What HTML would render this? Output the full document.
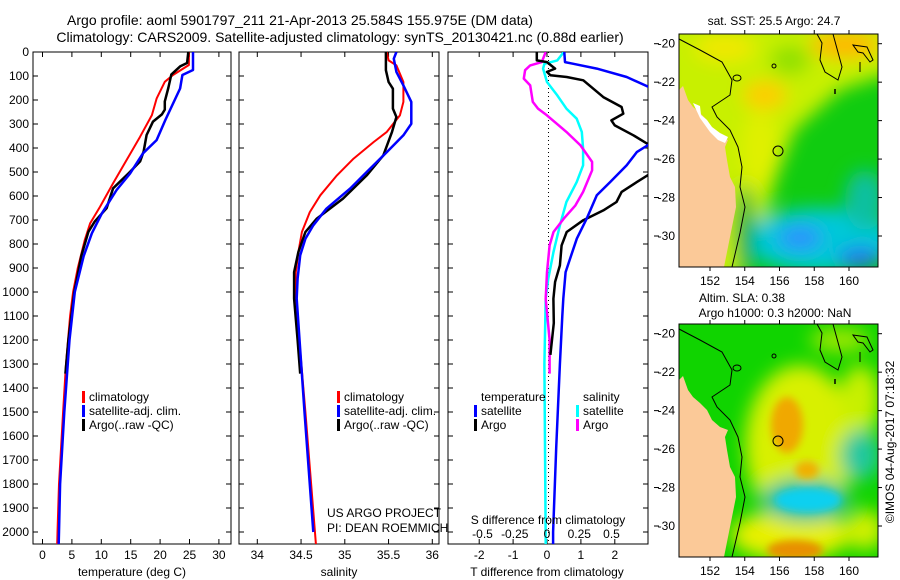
<!DOCTYPE html>
<html><head><meta charset="utf-8">
<style>
body{margin:0;background:#fff;}
svg{display:block;font-family:"Liberation Sans",sans-serif;}
text{fill:#000;}
</style></head>
<body>
<svg id="fig" width="900" height="580" viewBox="0 0 900 580" xmlns="http://www.w3.org/2000/svg">
<defs>
<clipPath id="cp1"><rect x="33" y="52" width="198" height="492"/></clipPath>
<clipPath id="cp2"><rect x="239" y="52" width="200" height="492"/></clipPath>
<clipPath id="cp3"><rect x="448" y="52" width="200" height="492"/></clipPath>
<clipPath id="cm1"><rect x="679" y="34" width="199" height="233"/></clipPath>
<clipPath id="cm2"><rect x="679" y="324" width="199" height="233"/></clipPath>
<filter id="bl" x="-50%" y="-50%" width="200%" height="200%"><feGaussianBlur stdDeviation="9"/></filter>
<filter id="bs" x="-50%" y="-50%" width="200%" height="200%"><feGaussianBlur stdDeviation="4"/></filter>
</defs>
<text x="300" y="25" font-size="14" text-anchor="middle">Argo profile: aoml 5901797_211 21-Apr-2013 25.584S 155.975E (DM data)</text>
<text x="340" y="42" font-size="14" text-anchor="middle">Climatology: CARS2009. Satellite-adjusted climatology: synTS_20130421.nc (0.88d earlier)</text>

<!-- map 1 -->
<g clip-path="url(#cm1)">
<rect x="679" y="34" width="199" height="233" fill="#10cc10"/>
<g filter="url(#bl)">
<polygon points="660,20 900,20 900,70 840,90 795,130 775,180 760,240 740,280 660,280" fill="#c8f000"/>
<ellipse cx="845" cy="45" rx="35" ry="14" fill="#ffb800"/>
<ellipse cx="725" cy="48" rx="30" ry="14" fill="#f0e800"/>
<ellipse cx="765" cy="95" rx="22" ry="14" fill="#ffcc00"/>
<ellipse cx="760" cy="150" rx="18" ry="40" fill="#e0f000"/>
<ellipse cx="790" cy="60" rx="20" ry="15" fill="#90e000"/>
<ellipse cx="820" cy="240" rx="75" ry="32" fill="#00c8d8"/>
<ellipse cx="865" cy="200" rx="20" ry="30" fill="#10c0a0"/>
<ellipse cx="800" cy="238" rx="22" ry="12" fill="#2c90ff"/>
<ellipse cx="860" cy="258" rx="22" ry="10" fill="#2070f0"/>
<ellipse cx="745" cy="230" rx="10" ry="45" fill="#00b040"/>
</g>
<polygon points="679,90 683,86 688,100 693,107 700,113 707,120 712,130 720,137 728,140 725,147 727,160 730,177 735,187 736,207 732,227 728,247 724,267 679,267" fill="#fbc998"/>
<polygon points="693,103 700,106 701,115 707,120 712,127 720,133 728,137 725,143 718,140 710,132 700,118" fill="#fff"/>
<path d="M679,39 L700,50 L722,62 L732,80 L730,95 L712,107 L717,117 L730,130 L738,147 L742,167 L740,187 L745,207 L740,233 L732,267" fill="none" stroke="#000" stroke-width="1"/>
<path d="M817,34 L822,43 L820,60 L825,72 L838,80 L842,67 L833,34" fill="none" stroke="#000" stroke-width="1"/>
<path d="M853,45 L867,47 L873,60 L870,62 L863,53 L858,52 Z" fill="none" stroke="#000" stroke-width="1"/>
<line x1="860" y1="62" x2="860" y2="72" stroke="#000"/>
<ellipse cx="737" cy="78" rx="4" ry="3" fill="none" stroke="#000"/>
<circle cx="774" cy="66" r="2" fill="none" stroke="#000"/>
<line x1="835" y1="89" x2="835" y2="94" stroke="#000" stroke-width="1.5"/>
<circle cx="778" cy="151" r="5" fill="none" stroke="#000" stroke-width="1"/>
</g>
<rect x="679" y="34" width="199" height="233" fill="none" stroke="#000" stroke-width="1"/>
<text x="774" y="25" font-size="12" text-anchor="middle">sat. SST: 25.5 Argo: 24.7</text>

<!-- map 2 -->
<g clip-path="url(#cm2)">
<rect x="679" y="324" width="199" height="233" fill="#10d400"/>
<g filter="url(#bl)">
<ellipse cx="800" cy="445" rx="55" ry="80" fill="#d8f000"/>
<ellipse cx="860" cy="400" rx="20" ry="35" fill="#c8f000"/>
<ellipse cx="790" cy="535" rx="60" ry="25" fill="#e8f000"/>
<ellipse cx="865" cy="530" rx="20" ry="20" fill="#d0f000"/>
<ellipse cx="840" cy="340" rx="30" ry="12" fill="#a0e800"/>
<ellipse cx="805" cy="500" rx="45" ry="22" fill="#20c0a0"/>
<ellipse cx="860" cy="455" rx="20" ry="25" fill="#20c8a0"/>
</g>
<g filter="url(#bs)">
<ellipse cx="787" cy="425" rx="16" ry="28" fill="#f0a800"/>
<ellipse cx="807" cy="470" rx="12" ry="9" fill="#f0b000"/>
<ellipse cx="808" cy="500" rx="33" ry="12" fill="#10d0f0"/>
<ellipse cx="795" cy="550" rx="28" ry="10" fill="#e89000"/>
</g>
<polygon points="679,380 683,376 688,390 693,397 700,403 707,410 712,420 720,427 728,430 725,437 727,450 730,467 735,477 736,497 732,517 728,537 724,557 679,557" fill="#fbc998"/>
<path d="M679,329 L700,340 L722,352 L732,370 L730,385 L712,397 L717,407 L730,420 L738,437 L742,457 L740,477 L745,497 L740,523 L732,557" fill="none" stroke="#000" stroke-width="1"/>
<path d="M817,324 L822,333 L820,350 L825,362 L838,370 L842,357 L833,324" fill="none" stroke="#000" stroke-width="1"/>
<path d="M853,335 L867,337 L873,350 L870,352 L863,343 L858,342 Z" fill="none" stroke="#000" stroke-width="1"/>
<line x1="860" y1="352" x2="860" y2="362" stroke="#000"/>
<ellipse cx="737" cy="368" rx="4" ry="3" fill="none" stroke="#000"/>
<circle cx="774" cy="356" r="2" fill="none" stroke="#000"/>
<line x1="835" y1="379" x2="835" y2="384" stroke="#000" stroke-width="1.5"/>
<circle cx="778" cy="441" r="5" fill="none" stroke="#000" stroke-width="1"/>
</g>
<rect x="679" y="324" width="199" height="233" fill="none" stroke="#000" stroke-width="1"/>
<text x="742" y="302" font-size="12" text-anchor="middle">Altim. SLA: 0.38</text>
<text x="775" y="317" font-size="12" text-anchor="middle">Argo h1000: 0.3 h2000: NaN</text>
<text transform="translate(894,442) rotate(-90)" font-size="12" text-anchor="middle">©IMOS 04-Aug-2017 07:18:32</text>

<text x="327" y="517" font-size="12">US ARGO PROJECT</text>
<text x="327" y="532" font-size="12">PI: DEAN ROEMMICH</text>
</svg>
<script>
// temperature panel data
var depthTClim=[0,54,96,124,194,263,353,450,547,644,714,783,900,1000,1100,1300,1500,1800,2000,2050];
var tempClim=[24.9,24.9,22.2,20.8,19.4,18.6,16.6,14.3,12.0,9.8,8.1,7.2,6.0,5.2,4.7,4.0,3.5,2.8,2.55,2.5];
var depthTSat=[0,75,96,152,215,283,367,422,506,575,672,755,850,1000,1200,1500,1800,2000,2050];
var tempSat=[25.6,25.6,23.8,23.4,22.2,20.9,19.4,17.1,14.9,12.6,10.1,8.4,7.0,5.5,4.6,3.7,3.0,2.8,2.75];
var depthTArgo=[0,46,60,94,150,206,240,260,290,346,415,456,499,568,651,706,749,850,1000,1200,1340];
var tempArgo=[24.8,24.6,23.4,21.9,21.4,20.8,20.8,20.3,18.8,17.7,17.2,16.6,14.9,12.0,10.9,8.9,7.8,6.6,5.4,4.4,3.9];
// salinity panel data
var depthSClim=[0,35,56,125,208,264,333,375,444,514,597,667,750,833,917,1028,1500,2050];
var salClim=[35.48,35.50,35.59,35.67,35.67,35.63,35.48,35.33,35.10,34.91,34.72,34.60,34.51,34.47,34.44,34.44,34.55,34.67];
var depthSSat=[0,28,83,139,208,299,347,417,500,569,653,722,778,847,944,1028,1500,2000];
var salSat=[35.59,35.56,35.59,35.67,35.76,35.76,35.67,35.48,35.25,35.06,34.79,34.64,34.55,34.49,34.46,34.45,34.54,34.64];
var depthSArgo=[0,76,125,153,236,271,333,431,514,611,694,750,833,917,1028,1200,1340];
var salArgo=[35.47,35.47,35.50,35.55,35.55,35.59,35.54,35.44,35.25,34.98,34.68,34.55,34.47,34.42,34.42,34.46,34.49];
// difference panel data
var depthDTSat=[0,42,49,69,104,146,200,300,386,417,472,542,597,694,778,861,917,1028,1100,1300,1650,2000,2050];
var tDiffSat=[0.51,0.53,0.78,1.47,2.35,3.0,4.0,4.0,3.0,2.65,2.35,1.86,1.47,1.17,0.88,0.68,0.55,0.48,0.45,0.38,0.27,0.18,0.18];
var depthDTArgo=[0,35,42,69,83,97,104,118,188,229,257,285,306,347,386,450,511,542,583,625,660,701,750,806,889,958,1028,1129,1262];
var tDiffArgo=[-0.30,-0.30,0,0.24,0,0.1,0.58,1.07,1.66,2.2,2.25,1.9,2.0,2.55,3.0,3.4,3.0,2.65,2.2,2.05,1.66,1.07,0.58,0.43,0.38,0.24,0.19,0.2,0.1];
var depthDSSat=[0,35,49,69,125,181,236,278,333,403,472,542,625,722,833,944,1028,1300,2050];
var sDiffSat=[0.13,0.08,-0.02,-0.03,0,0.08,0.15,0.23,0.27,0.28,0.28,0.23,0.15,0.10,0.05,0.01,-0.01,-0.02,-0.01];
var depthDSArgo=[0,42,56,76,111,139,208,236,264,333,389,458,493,583,639,694,750,806,917,1028,1200,1340];
var sDiffArgo=[-0.01,-0.04,-0.13,-0.17,-0.18,-0.13,-0.11,-0.07,0,0.15,0.26,0.35,0.35,0.28,0.22,0.13,0.05,0.02,0,-0.01,0.02,0.02];
// ticks
var depthTicks=[0,100,200,300,400,500,600,700,800,900,1000,1100,1200,1300,1400,1500,1600,1700,1800,1900,2000];
var tempTicks=[0,5,10,15,20,25,30];
var salTicks=[34,34.5,35,35.5,36];
var salTickLabels=["34","34.5","35","35.5","36"];
var tDiffTicks=[-2,-1,0,1,2];
var sDiffTicks=[-0.5,-0.25,0,0.25,0.5];
var sDiffTickLabels=["-0.5","-0.25","0","0.25","0.5"];
var lonTicks=[152,154,156,158,160];
var latTicks=[-20,-22,-24,-26,-28,-30];

var NS='http://www.w3.org/2000/svg';
var svg=document.getElementById('fig');
function mk(tag,attrs,parent){var e=document.createElementNS(NS,tag);for(var k in attrs)e.setAttribute(k,attrs[k]);(parent||svg).appendChild(e);return e;}
function yD(d){return 52+0.24*d;}
function xT(t){return 42.5+5.88*t;}
function xS(s){return 257.3+87.5*(s-34);}
function xDT(t){return 547+33.9*t;}
function xDS(s){return 547+129*s;}
function lonX(l){return 710+(l-152)*17.375;}
function latY(l,off){return off+43.7+(-20-l)*19.23;}

function panelFrame(x0,x1,name,showDepthLabels){
  var g=mk('g',{});
  
  
  mk('rect',{x:x0,y:52,width:x1-x0,height:492,fill:'none',stroke:'#000','stroke-width':1},g);
  depthTicks.forEach(function(d){
    var y=yD(d);
    mk('line',{x1:x0,x2:x0+5,y1:y,y2:y,stroke:'#000'},g);
    mk('line',{x1:x1-5,x2:x1,y1:y,y2:y,stroke:'#000'},g);
    if(showDepthLabels){
      var tx=mk('text',{x:x0-4,y:y+4,'font-size':12,'text-anchor':'end'},g);
      
      
      tx.textContent=d;
    }
  });
  return g;
}
function xTicks(g,ticks,labels,fx,labY,top){
  ticks.forEach(function(v,i){
    var x=fx(v);
    mk('line',{x1:x,x2:x,y1:539,y2:544,stroke:'#000'},g);
    if(top) mk('line',{x1:x,x2:x,y1:52,y2:57,stroke:'#000'},g);
    if(labels){
      var tx=mk('text',{x:x,y:labY,'font-size':12,'text-anchor':'middle'},g);
      
      
      tx.textContent=labels[i];
    }
  });
}
function series(depths,vals,fx,color,w,clip,name){
  var pts=depths.map(function(d,i){return fx(vals[i]).toFixed(1)+','+yD(d).toFixed(1);}).join(' ');
  var p=mk('polyline',{points:pts,fill:'none',stroke:color,'stroke-width':w,'clip-path':'url(#'+clip+')','stroke-linejoin':'round'});
  
  
}
function legend(x,y,color,label,name){
  var g=mk('g',{});
  
  
  mk('rect',{x:x,y:y-6,width:3,height:12,fill:color},g);
  var t=mk('text',{x:x+7,y:y+4,'font-size':12},g);
  t.textContent=label;
}
function axisTitle(x,y,label,name){
  var t=mk('text',{x:x,y:y,'font-size':12,'text-anchor':'middle'});
  
  
  t.textContent=label;
}

// panel 1
var g1=panelFrame(33,231,'temperature-panel',true);
xTicks(g1,tempTicks,tempTicks,xT,559,true);
axisTitle(132,576,'temperature (deg C)','temperature-axis-title');
series(depthTClim,tempClim,xT,'#ff0000',2,'cp1','temp-climatology-line');
series(depthTArgo,tempArgo,xT,'#000000',2.5,'cp1','temp-argo-line');
series(depthTSat,tempSat,xT,'#0000ff',2.5,'cp1','temp-satellite-line');
legend(82,397,'#ff0000','climatology','legend-climatology');
legend(82,411,'#0000ff','satellite-adj. clim.','legend-satellite');
legend(82,425,'#000000','Argo(..raw -QC)','legend-argo');

// panel 2
var g2=panelFrame(239,439,'salinity-panel',false);
xTicks(g2,salTicks,salTickLabels,xS,559,true);
axisTitle(339,576,'salinity','salinity-axis-title');
series(depthSClim,salClim,xS,'#ff0000',2,'cp2','sal-climatology-line');
series(depthSArgo,salArgo,xS,'#000000',2.5,'cp2','sal-argo-line');
series(depthSSat,salSat,xS,'#0000ff',2.5,'cp2','sal-satellite-line');
legend(337,397,'#ff0000','climatology','legend-climatology-2');
legend(337,411,'#0000ff','satellite-adj. clim.','legend-satellite-2');
legend(337,425,'#000000','Argo(..raw -QC)','legend-argo-2');

// panel 3
var g3=panelFrame(448,648,'difference-panel',false);
xTicks(g3,tDiffTicks,tDiffTicks,xDT,559,true);
axisTitle(547,576,'T difference from climatology','t-diff-axis-title');
var z=mk('line',{x1:548.5,x2:548.5,y1:52,y2:544,stroke:'#000','stroke-dasharray':'1,3'});


series(depthDSSat,sDiffSat,xDS,'#00ffff',2.5,'cp3','s-diff-satellite-line');
series(depthDSArgo,sDiffArgo,xDS,'#ff00ff',2.5,'cp3','s-diff-argo-line');
series(depthDTArgo,tDiffArgo,xDT,'#000000',2.5,'cp3','t-diff-argo-line');
series(depthDTSat,tDiffSat,xDT,'#0000ff',2.5,'cp3','t-diff-satellite-line');
axisTitle(548,524,'S difference from climatology','s-diff-axis-title');
sDiffTicks.forEach(function(v,i){
  var t=mk('text',{x:xDS(v),y:538,'font-size':12,'text-anchor':'middle'});
  
  
  t.textContent=sDiffTickLabels[i];
});
var lt=mk('text',{x:481,y:401,'font-size':12});


lt.textContent='temperature';
var ls=mk('text',{x:583,y:401,'font-size':12});


ls.textContent='salinity';
legend(474,411,'#0000ff','satellite','legend-t-satellite');
legend(474,425,'#000000','Argo','legend-t-argo');
legend(576,411,'#00ffff','satellite','legend-s-satellite');
legend(576,425,'#ff00ff','Argo','legend-s-argo');

// map axes
[0,290].forEach(function(off,mi){
  lonTicks.forEach(function(l){
    var x=lonX(l);
    mk('line',{x1:x,x2:x,y1:off+34,y2:off+30,stroke:'#000'});
    mk('line',{x1:x,x2:x,y1:off+267,y2:off+271,stroke:'#000'});
    var t=mk('text',{x:x,y:off+285,'font-size':12,'text-anchor':'middle'});
    
    
    t.textContent=l;
  });
  latTicks.forEach(function(l){
    var y=latY(l,off);
    mk('line',{x1:878,x2:882,y1:y,y2:y,stroke:'#000'});
    mk('line',{x1:654,x2:659,y1:y,y2:y,stroke:'#000'});
    var t=mk('text',{x:675,y:y+4,'font-size':12,'text-anchor':'end'});
    
    
    t.textContent=l;
  });
});
</script>
</body></html>
